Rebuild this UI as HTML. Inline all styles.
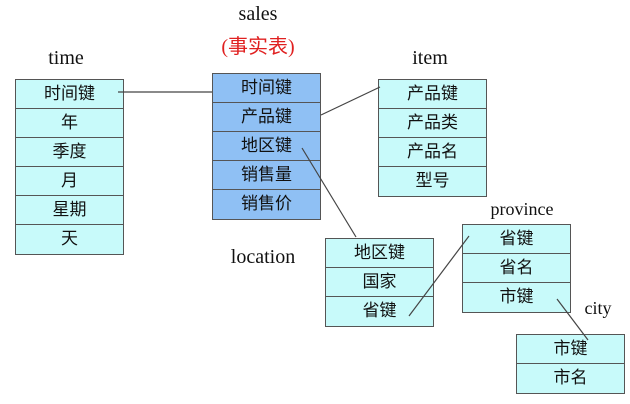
<!DOCTYPE html>
<html><head><meta charset="utf-8"><style>
body{margin:0;width:630px;height:404px;background:#fff;position:relative;overflow:hidden;font-family:"Liberation Sans","Noto Sans CJK SC",sans-serif}
.t{position:absolute;border:1px solid #555;box-sizing:border-box}
.t div{height:29px;line-height:28px;text-align:center;font-size:17px;color:#111;border-bottom:1px solid #555;box-sizing:border-box}
.t div:last-child{border-bottom:none}
.c{background:#c8fafa}.b{background:#8fc0f4}
.l{position:absolute;font-family:"Liberation Serif","Noto Serif CJK SC",serif;font-size:20px;color:#111;transform:translateX(-50%);white-space:nowrap}
svg{position:absolute;left:0;top:0}
</style></head><body>
<div class="l" style="left:66px;top:47px">time</div>
<div class="l" style="left:258px;top:3px">sales</div>
<div class="l" style="left:258px;top:30px;color:#e02020;font-family:'Liberation Serif','Noto Sans CJK SC',sans-serif">(事实表)</div>
<div class="l" style="left:430px;top:47px">item</div>
<div class="l" style="left:263px;top:246px">location</div>
<div class="l" style="left:522px;top:199px;font-size:18px">province</div>
<div class="l" style="left:598px;top:298px;font-size:18px">city</div>
<div class="t c" style="left:15px;top:79px;width:109px"><div>时间键</div><div>年</div><div>季度</div><div>月</div><div>星期</div><div>天</div></div>
<div class="t b" style="left:212px;top:73px;width:109px"><div>时间键</div><div>产品键</div><div>地区键</div><div>销售量</div><div>销售价</div></div>
<div class="t c" style="left:378px;top:79px;width:109px"><div>产品键</div><div>产品类</div><div>产品名</div><div>型号</div></div>
<div class="t c" style="left:325px;top:238px;width:109px"><div>地区键</div><div>国家</div><div>省键</div></div>
<div class="t c" style="left:462px;top:224px;width:109px"><div>省键</div><div>省名</div><div>市键</div></div>
<div class="t c" style="left:516px;top:334px;width:109px"><div>市键</div><div>市名</div></div>
<svg width="630" height="404"><g stroke="#444" stroke-width="1.2">
<line x1="118" y1="92" x2="212" y2="92"/>
<line x1="321" y1="115" x2="380" y2="87"/>
<line x1="302" y1="148" x2="356" y2="237"/>
<line x1="409" y1="316" x2="469" y2="236"/>
<line x1="557" y1="299" x2="588" y2="340"/>
</g></svg>
</body></html>
